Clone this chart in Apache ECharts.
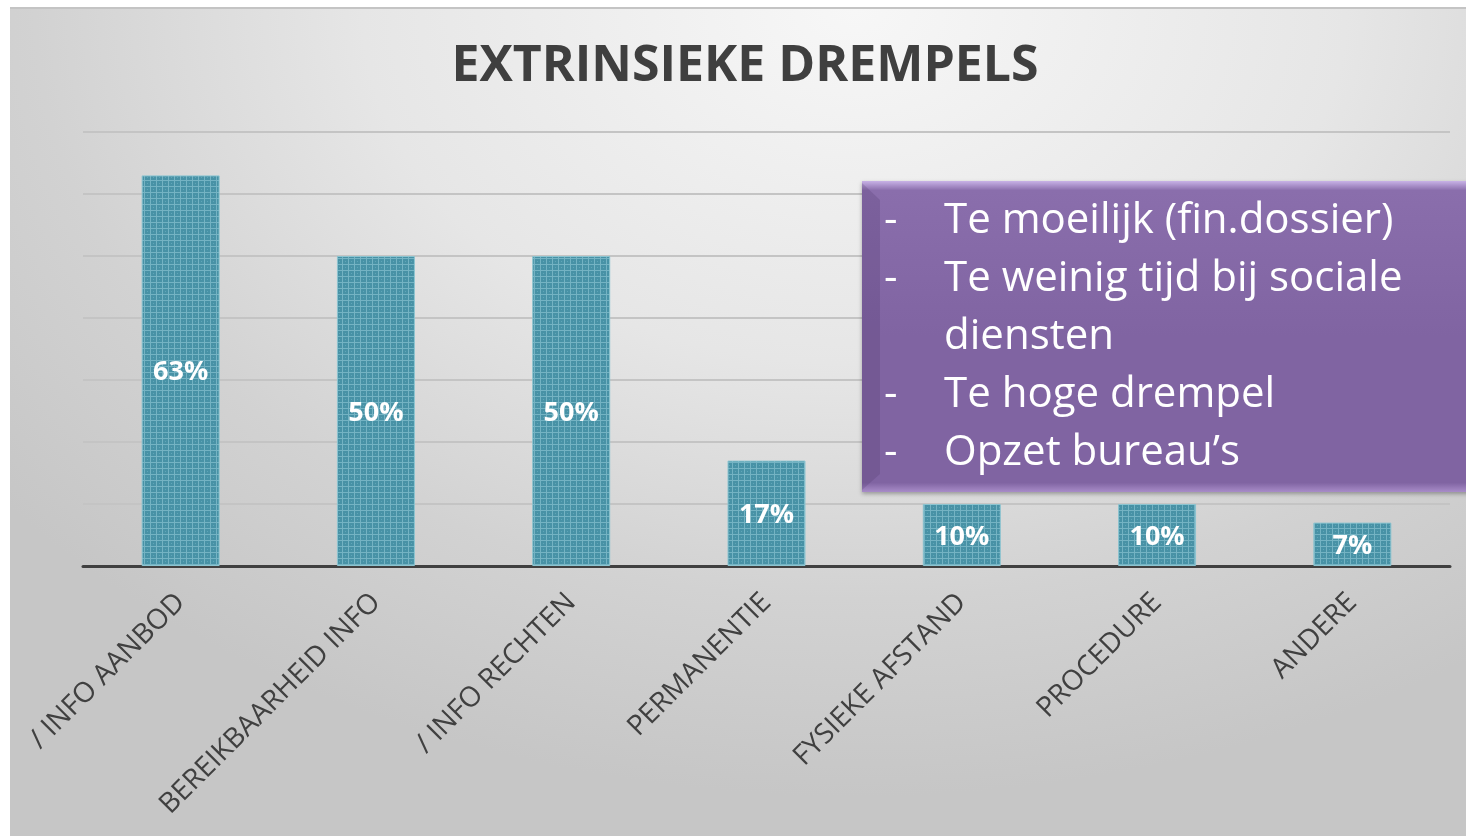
<!DOCTYPE html>
<html>
<head>
<meta charset="utf-8">
<script src="https://cdn.jsdelivr.net/npm/echarts@6/dist/echarts.min.js"></script>
<style>
html, body { margin: 0; padding: 0; background: #ffffff; }
#bg {
  position: absolute; left: 10px; top: 7px; width: 1456px; height: 829px;
  border-top: 2px solid #c4c4c4;
  background: radial-gradient(ellipse 75% 95% at 58% 0%, #f7f7f7 0%, #e6e6e6 45%, #d2d2d2 75%, #c6c6c6 100%);
}
#chart { position: absolute; left: 0; top: 0; width: 1466px; height: 836px; }
</style>
</head>
<body>
<div id="bg"></div>
<div id="chart"></div>
<script>
// categorieën en percentages
const categories = ['/ INFO AANBOD', 'BEREIKBAARHEID INFO', '/ INFO RECHTEN', 'PERMANENTIE', 'FYSIEKE AFSTAND', 'PROCEDURE', 'ANDERE'];
const values = [63, 50, 50, 17, 10, 10, 7];
const boxLines = ['Te moeilijk (fin.dossier)', 'Te weinig tijd bij sociale', 'diensten', 'Te hoge drempel', 'Opzet bureau\u2019s'];
const boxDashes = ['-', '-', '', '-', '-'];

// patroon voor de balken
function barPattern() {
  const c = document.createElement('canvas');
  c.width = 6; c.height = 6;
  const ctx = c.getContext('2d');
  ctx.fillStyle = '#4892a6';
  ctx.fillRect(0, 0, 6, 6);
  ctx.fillStyle = '#74b3c3';
  ctx.fillRect(0, 0, 1, 6);
  ctx.fillRect(0, 0, 6, 1);
  ctx.fillStyle = '#5fa6b8';
  ctx.fillRect(3, 3, 1, 1);
  return c;
}

const chart = echarts.init(document.getElementById('chart'));

const textEls = [];
boxLines.forEach((t, i) => {
  if (boxDashes[i]) {
    textEls.push({
      type: 'text', left: 884, top: 200 + i * 58, z: 102,
      style: { text: boxDashes[i], fill: '#ffffff', font: '42px "Open Sans"' }
    });
  }
  textEls.push({
    type: 'text', left: 944, top: 200 + i * 58, z: 102,
    style: { text: t, fill: '#ffffff', font: '42px "Open Sans"' }
  });
});

const option = {
  animation: false,
  title: {
    text: 'EXTRINSIEKE DREMPELS',
    top: 42,
    left: 745,
    textAlign: 'center',
    padding: 0,
    textStyle: { fontFamily: 'Open Sans', fontSize: 50, fontWeight: 'bold', color: '#3f3f3f' }
  },
  grid: { left: 83, right: 16, top: 132, bottom: 270, containLabel: false },
  xAxis: {
    type: 'category',
    data: categories,
    axisLine: { lineStyle: { color: '#404040', width: 3 } },
    axisTick: { show: false },
    axisLabel: {
      rotate: 45, margin: 32, interval: 0,
      fontFamily: 'Open Sans', fontSize: 28, color: '#404040'
    }
  },
  yAxis: {
    type: 'value', min: 0, max: 70, interval: 10,
    axisLabel: { show: false },
    axisLine: { show: false },
    axisTick: { show: false },
    splitLine: { lineStyle: { color: '#c4c4c4', width: 2 } }
  },
  series: [{
    type: 'bar',
    data: values,
    barWidth: 78,
    itemStyle: { color: { image: barPattern(), repeat: 'repeat' }, borderColor: '#8cc4d0', borderWidth: 1 },
    label: {
      show: true, position: 'inside', formatter: '{c}%', offset: [0, 2],
      fontFamily: 'Open Sans', fontSize: 27, fontWeight: 'bold', color: '#ffffff'
    }
  }],
  graphic: [
    {
      type: 'rect', z: 100,
      shape: { x: 862, y: 181, width: 610, height: 311 },
      style: {
        fill: {
          type: 'linear', x: 0, y: 0, x2: 0, y2: 1,
          colorStops: [
            { offset: 0, color: '#c8b2e6' },
            { offset: 0.03, color: '#8a6eac' },
            { offset: 0.5, color: '#8064a2' },
            { offset: 0.97, color: '#8064a2' },
            { offset: 1, color: '#a88cc8' }
          ]
        },
        shadowBlur: 4, shadowColor: 'rgba(0,0,0,0.3)', shadowOffsetY: 2
      }
    },
    { type: 'polygon', z: 101, shape: { points: [[862, 183], [880, 200], [880, 474], [862, 490]] }, style: { fill: 'rgba(60,40,90,0.18)' } },
    { type: 'group', z: 102, children: textEls }
  ]
};

chart.setOption(option);
</script>
</body>
</html>
